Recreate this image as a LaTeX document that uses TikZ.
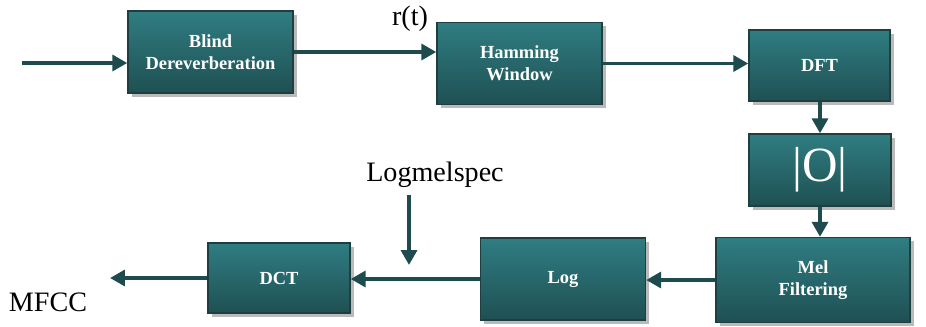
\documentclass[tikz,border=0pt]{standalone}
\usepackage{fontspec}
\setmainfont{Liberation Serif}
\usetikzlibrary{arrows.meta, positioning, shadows}
\definecolor{tealtop}{RGB}{47,125,130}
\definecolor{tealbot}{RGB}{31,80,83}
\definecolor{tealedge}{RGB}{30,62,64}
\definecolor{tealarrow}{RGB}{29,75,78}
\tikzset{
  block/.style={
    rectangle, minimum width=3.3cm, minimum height=1.64cm,
    draw=tealedge, thick, top color=tealtop, bottom color=tealbot,
    text=white, align=center, font=\fontsize{10.5}{12.5}\selectfont\bfseries,
    drop shadow={shadow xshift=2pt, shadow yshift=-2pt, opacity=0.45, fill=black!60}
  },
  flow/.style={-{Triangle[length=8.5pt, width=9pt]}, line width=2.2pt, color=tealarrow},
  label/.style={font=\fontsize{16}{19}\selectfont, text=black}
}
\begin{document}
\begin{tikzpicture}[x=0.02cm, y=-0.02cm]
  \useasboundingbox (0,0) rectangle (926,326);

  % Top row
  \node[block] (blind) at (210.5,52) {Blind\\Dereverberation};
  \node[block] (ham) at (519.5,63.5) {Hamming\\Window};
  \node[block, minimum width=2.82cm, minimum height=1.42cm] (dft) at (819.5,65.5) {DFT};

  % Magnitude
  \node[block, minimum width=2.84cm, minimum height=1.44cm,
        font=\fontsize{28}{30}\selectfont] (mag) at (820,170) {|O|};

  % Bottom row
  \node[block, minimum width=3.88cm, minimum height=1.7cm] (mel) at (813,280) {Mel\\Filtering};
  \node[block] (log) at (563,279) {Log};
  \node[block, minimum width=2.84cm, minimum height=1.4cm] (dct) at (279,278) {DCT};

  % Labels
  \node[label] (rt) at (410,19) {r(t)};
  \node[label] (lms) at (435,175) {Logmelspec};
  \node[label] (mfcc) at (48,302) {MFCC};

  \coordinate (in) at (22,63);
  \coordinate (out) at (110,278);
  \coordinate (lmstop) at (409,195);
  \coordinate (lmstip) at (409,265);

  \draw[flow] (in) -- (in -| blind.west);
  \draw[flow] (blind) -- (blind -| ham.west);
  \draw[flow] (ham) -- (ham -| dft.west);
  \draw[flow] (mag |- dft.south) -- (mag);
  \draw[flow] (mag) -- (mag |- mel.north);
  \draw[flow] (mel) -- (mel -| log.east);
  \draw[flow] (log) -- (log -| dct.east);
  \draw[flow] (dct) -- (out);
  \draw[flow] (lmstop) -- (lmstip);
\end{tikzpicture}
\end{document}
